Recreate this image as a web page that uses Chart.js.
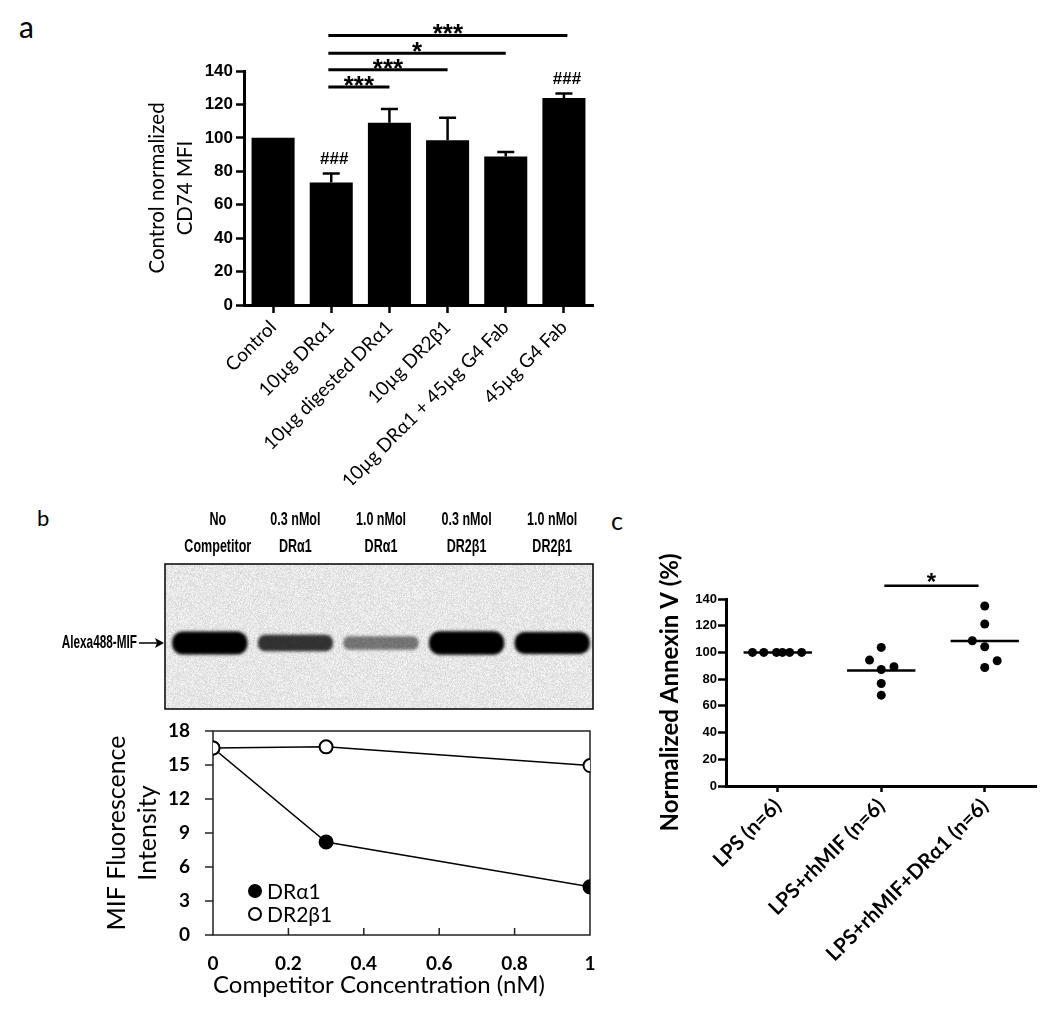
<!DOCTYPE html>
<html><head><meta charset="utf-8">
<script src="https://cdn.jsdelivr.net/npm/chart.js@4.4.1/dist/chart.umd.min.js"></script>
<style>
html,body{margin:0;padding:0;background:#fff;}
body{width:1050px;height:1031px;position:relative;overflow:hidden;}
canvas{position:absolute;}
.lbl{position:absolute;font-family:Lato,'Open Sans',sans-serif;color:#000;line-height:1;white-space:nowrap;}
</style></head><body>
<div class="lbl" style="left:19px;top:11px;font-size:30px">a</div>
<div class="lbl" style="left:37px;top:507px;font-size:22px">b</div>
<div class="lbl" style="left:611px;top:508px;font-size:25px">c</div>
<canvas id="ca" width="480" height="470" style="left:120px;top:15px"></canvas>
<canvas id="gel" width="600" height="225" style="left:0px;top:490px"></canvas>
<canvas id="cb" width="510" height="290" style="left:100px;top:715px"></canvas>
<canvas id="cc" width="450" height="480" style="left:600px;top:530px"></canvas>
<script>
// ---------- Panel a data ----------
const catA = ['Control', '10µg DRα1', '10µg digested DRα1', '10µg DR2β1', '10µg DRα1 + 45µg G4 Fab', '45µg G4 Fab'];
const meanA = [100, 73.3, 109, 98.5, 88.8, 123.8];
const semA = [0, 5.4, 8.3, 13.6, 2.8, 2.7];
const hashA = ['', '###', '', '', '', '###'];
const sigFromA = [0.95, 0.95, 0.95, 0.95];
const sigToA = [2, 3, 4, 5.06];
const sigLevelA = [130.4, 140.8, 150.6, 161.3];
const sigTextA = ['***', '***', '*', '***'];

// ---------- Panel b data ----------
const concB = [0, 0.3, 1];
const draB = [16.5, 8.2, 4.25];
const dr2B = [16.5, 16.6, 14.95];
const laneTop = ['No', '0.3 nMol', '1.0 nMol', '0.3 nMol', '1.0 nMol'];
const laneBottom = ['Competitor', 'DRα1', 'DRα1', 'DR2β1', 'DR2β1'];
const laneIntensity = [draB[0], draB[1], draB[2], dr2B[1], dr2B[2]];

// ---------- Panel c data ----------
const catC = ['LPS (n=6)', 'LPS+rhMIF (n=6)', 'LPS+rhMIF+DRα1 (n=6)'];
const valsC = [
  [100, 100, 100, 100, 100, 100],
  [94.25, 103.75, 87.25, 89.25, 76.75, 68],
  [134.75, 121.25, 108.75, 104.25, 93.75, 88.75]
];
const jitterC = [
  [-0.244, -0.135, -0.012, 0.045, 0.115, 0.231],
  [-0.113, 0, 0, 0.123, 0, 0],
  [0, 0, -0.12, 0, 0.12, 0]
];
const meanC = [100, 86.5, 108.6];
const sigFromC = [1.03], sigToC = [1.94], sigLevelC = [150], sigTextC = ['*'];

const LATO = "Lato, 'Open Sans', sans-serif";
const ARIAL = "'Liberation Sans', Arial, sans-serif";

// ---------- Panel a ----------
const annotA = {
  id: 'annotA',
  afterDatasetsDraw(chart) {
    const ctx = chart.ctx, xs = chart.scales.x, ys = chart.scales.y;
    ctx.save();
    ctx.strokeStyle = '#000'; ctx.fillStyle = '#000'; ctx.lineWidth = 2.5;
    meanA.forEach((m, i) => {
      const x = xs.getPixelForValue(i);
      let top = ys.getPixelForValue(m);
      if (semA[i] > 0) {
        top = ys.getPixelForValue(m + semA[i]);
        ctx.beginPath();
        ctx.moveTo(x, ys.getPixelForValue(m)); ctx.lineTo(x, top);
        ctx.moveTo(x - 8.5, top); ctx.lineTo(x + 8.5, top);
        ctx.stroke();
      }
      if (hashA[i]) {
        ctx.font = 'bold 17px ' + ARIAL;
        ctx.textAlign = 'center'; ctx.textBaseline = 'middle';
        ctx.fillText(hashA[i], x + 3, top - 14);
      }
    });
    ctx.lineWidth = 3;
    sigLevelA.forEach((lv, i) => {
      const y = ys.getPixelForValue(lv);
      const x1 = xs.getPixelForValue(sigFromA[i]), x2 = xs.getPixelForValue(sigToA[i]);
      ctx.beginPath(); ctx.moveTo(x1, y); ctx.lineTo(x2, y); ctx.stroke();
      ctx.font = 'bold 26px ' + ARIAL;
      ctx.textAlign = 'center'; ctx.textBaseline = 'alphabetic';
      ctx.fillText(sigTextA[i], (x1 + x2) / 2, y + 7);
    });
    ctx.restore();
  }
};

new Chart(document.getElementById('ca'), {
  type: 'bar',
  data: { labels: catA, datasets: [{ data: meanA, backgroundColor: '#000', borderWidth: 0, barPercentage: 0.74, categoryPercentage: 1 }] },
  options: {
    responsive: false, animation: false, events: [],
    layout: { padding: { top: 56, right: 7, left: 0, bottom: 0 } },
    plugins: { legend: { display: false }, tooltip: { enabled: false } },
    scales: {
      x: {
        grid: { display: true, offset: false, drawOnChartArea: false, drawTicks: true, tickLength: 8, tickWidth: 2.5, tickColor: '#000' },
        border: { display: true, color: '#000', width: 3 },
        ticks: { color: '#000', font: { family: LATO, size: 19 }, maxRotation: 45, minRotation: 45, padding: 3, autoSkip: false },
        afterFit(s) { s.height = 180; }
      },
      y: {
        min: 0, max: 140,
        ticks: { stepSize: 20, color: '#000', font: { family: ARIAL, size: 17, weight: 'bold' }, padding: 3 },
        grid: { drawOnChartArea: false, tickLength: 8, tickWidth: 2.5, tickColor: '#000' },
        border: { color: '#000', width: 3 },
        title: { display: true, text: ['Control normalized', 'CD74 MFI'], color: '#000', font: { family: LATO, size: 20.5, lineHeight: 1.37 }, padding: { top: 23, bottom: 0 } },
        afterFit(s) { s.width = 124; }
      }
    }
  },
  plugins: [annotA]
});

// ---------- Panel b gel (photograph stand-in) ----------
(function drawGel() {
  const c = document.getElementById('gel'), ctx = c.getContext('2d');
  const gx = 165, gy = 74, gw = 428, gh = 145;
  const img = ctx.createImageData(gw, gh);
  let s = 12345;
  const rnd = () => { s = (s * 1103515245 + 12345) & 0x7fffffff; return s / 0x7fffffff; };
  for (let i = 0; i < gw * gh; i++) {
    const g = 216 + Math.floor(rnd() * 30);
    img.data[i * 4] = g; img.data[i * 4 + 1] = g; img.data[i * 4 + 2] = g; img.data[i * 4 + 3] = 255;
  }
  ctx.putImageData(img, gx, gy);
  const laneW = gw / laneIntensity.length;
  const bandY = 153;
  laneIntensity.forEach((v, i) => {
    const cx = gx + (i + 0.5) * laneW + 2;
    const bw = laneW * 0.88, bh = 10 + v * 0.8;
    const a = Math.min(1, 0.2 + v / 14);
    ctx.save();
    ctx.filter = 'blur(1.6px)';
    ctx.fillStyle = 'rgba(0,0,0,' + a + ')';
    ctx.beginPath();
    ctx.roundRect(cx - bw / 2, bandY - bh / 2, bw, bh, bh * 0.45);
    ctx.fill();
    ctx.restore();
    ctx.save();
    ctx.fillStyle = '#000';
    ctx.font = 'bold 19px ' + ARIAL;
    ctx.textAlign = 'center'; ctx.textBaseline = 'middle';
    ctx.translate(cx + (i === 0 ? 8 : 0), 0);
    ctx.scale(0.66, 1);
    ctx.fillText(laneTop[i], 0, 30);
    ctx.fillText(laneBottom[i], 0, 57);
    ctx.restore();
  });
  ctx.strokeStyle = '#000'; ctx.lineWidth = 1.5;
  ctx.strokeRect(gx, gy, gw, gh);
  ctx.save();
  ctx.fillStyle = '#000';
  ctx.font = 'bold 19px ' + ARIAL;
  ctx.textAlign = 'right'; ctx.textBaseline = 'middle';
  ctx.translate(137, bandY);
  ctx.scale(0.62, 1);
  ctx.fillText('Alexa488-MIF', 0, 0);
  ctx.restore();
  ctx.beginPath(); ctx.lineWidth = 1.5; ctx.strokeStyle = '#000';
  ctx.moveTo(139, bandY); ctx.lineTo(160, bandY); ctx.stroke();
  ctx.beginPath(); ctx.fillStyle = '#000';
  ctx.moveTo(164, bandY); ctx.lineTo(155, bandY - 5); ctx.lineTo(157, bandY); ctx.lineTo(155, bandY + 5); ctx.closePath(); ctx.fill();
})();

// ---------- Panel b line chart ----------
const boxB = {
  id: 'boxB',
  beforeDatasetsDraw(chart) {
    const { ctx, chartArea: a } = chart, xs = chart.scales.x, ys = chart.scales.y;
    ctx.save();
    ctx.strokeStyle = '#222'; ctx.lineWidth = 1.5;
    ctx.strokeRect(a.left, a.top, a.right - a.left, a.bottom - a.top);
    [0.2, 0.4, 0.6, 0.8].forEach(v => {
      const x = xs.getPixelForValue(v);
      ctx.beginPath(); ctx.moveTo(x, a.bottom); ctx.lineTo(x, a.bottom - 7); ctx.stroke();
    });
    ys.ticks.forEach(t => {
      const y = ys.getPixelForValue(t.value);
      ctx.beginPath(); ctx.moveTo(a.left - 8, y); ctx.lineTo(a.left, y); ctx.stroke();
    });
    ctx.restore();
  },
  afterDraw(chart) {
    const { ctx, chartArea: a } = chart;
    const order = [1, 0];
    ctx.save();
    order.forEach((di, k) => {
      const ds = chart.data.datasets[di];
      const x = a.left + 42, y = a.bottom - 44 + k * 23;
      ctx.beginPath(); ctx.arc(x, y, 6, 0, Math.PI * 2);
      ctx.fillStyle = ds.pointBackgroundColor; ctx.fill();
      ctx.lineWidth = 2; ctx.strokeStyle = '#000'; ctx.stroke();
      ctx.fillStyle = '#000'; ctx.font = '21px ' + LATO;
      ctx.textAlign = 'left'; ctx.textBaseline = 'middle';
      ctx.fillText(ds.label, x + 12, y + 1);
    });
    ctx.restore();
  }
};

new Chart(document.getElementById('cb'), {
  type: 'scatter',
  data: {
    datasets: [
      { label: 'DR2β1', data: concB.map((x, i) => ({ x, y: dr2B[i] })), showLine: true, borderColor: '#000', borderWidth: 1.5, pointRadius: 6.5, pointBackgroundColor: '#fff', pointBorderColor: '#000', pointBorderWidth: 2 },
      { label: 'DRα1', data: concB.map((x, i) => ({ x, y: draB[i] })), showLine: true, borderColor: '#000', borderWidth: 1.5, pointRadius: 6.5, pointBackgroundColor: '#000', pointBorderColor: '#000', pointBorderWidth: 2 }
    ]
  },
  options: {
    responsive: false, animation: false, events: [],
    layout: { padding: { top: 16, right: 20, left: 0, bottom: 0 } },
    plugins: { legend: { display: false }, tooltip: { enabled: false } },
    scales: {
      x: {
        type: 'linear', min: 0, max: 1,
        grid: { display: true, drawOnChartArea: false, drawTicks: true, tickLength: 15, tickColor: 'rgba(0,0,0,0)' },
        border: { display: false },
        ticks: { stepSize: 0.2, callback: v => String(Math.round(v * 10) / 10), color: '#000', font: { family: LATO, size: 19, weight: 'bold' }, padding: 2 },
        title: { display: true, align: 'start', text: 'Competitor Concentration (nM)', color: '#000', font: { family: LATO, size: 24, lineHeight: 1.2 }, padding: { top: 0, bottom: 5 } },
        afterFit(s) { s.height = 70; }
      },
      y: {
        min: 0, max: 18,
        ticks: { stepSize: 3, color: '#000', font: { family: LATO, size: 19, weight: 'bold' }, padding: 2 },
        grid: { display: true, drawOnChartArea: false, tickLength: 21, tickColor: 'rgba(0,0,0,0)' },
        border: { display: false },
        title: { display: true, text: ['MIF Fluorescence', 'Intensity'], color: '#000', font: { family: LATO, size: 25, lineHeight: 1.24 }, padding: { top: 1.5, bottom: 0 } },
        afterFit(s) { s.width = 113; }
      }
    }
  },
  plugins: [boxB]
});

// ---------- Panel c ----------
const annotC = {
  id: 'annotC',
  afterDraw(chart) {
    const ctx = chart.ctx, xs = chart.scales.x, ys = chart.scales.y;
    ctx.save();
    ctx.strokeStyle = '#000'; ctx.fillStyle = '#000'; ctx.lineWidth = 2.5;
    sigLevelC.forEach((lv, i) => {
      const y = ys.getPixelForValue(lv);
      const x1 = xs.getPixelForValue(sigFromC[i]), x2 = xs.getPixelForValue(sigToC[i]);
      ctx.beginPath(); ctx.moveTo(x1, y); ctx.lineTo(x2, y); ctx.stroke();
      ctx.font = 'bold 24px ' + ARIAL;
      ctx.textAlign = 'center'; ctx.textBaseline = 'alphabetic';
      ctx.fillText(sigTextC[i], (x1 + x2) / 2, y + 4.5);
    });
    ctx.restore();
  }
};

const dsC = [];
valsC.forEach((vals, g) => {
  dsC.push({ data: vals.map((v, k) => ({ x: g + jitterC[g][k], y: v })), pointRadius: 4.5, pointBackgroundColor: '#000', pointBorderWidth: 0, showLine: false });
  dsC.push({ data: [{ x: g - 0.33, y: meanC[g] }, { x: g + 0.33, y: meanC[g] }], pointRadius: 0, showLine: true, borderColor: '#000', borderWidth: 2.5 });
});

new Chart(document.getElementById('cc'), {
  type: 'scatter',
  data: { datasets: dsC },
  options: {
    responsive: false, animation: false, events: [],
    layout: { padding: { top: 69, right: 13.5, left: 0, bottom: 0 } },
    plugins: { legend: { display: false }, tooltip: { enabled: false } },
    scales: {
      x: {
        type: 'linear', min: -0.5, max: 2.5,
        afterBuildTicks(s) { s.ticks = [0, 1, 2].map(v => ({ value: v })); },
        grid: { drawOnChartArea: false, tickLength: 6, tickWidth: 2.5, tickColor: '#000' },
        border: { color: '#000', width: 3 },
        ticks: { callback: v => catC[v], autoSkip: false, maxRotation: 45, minRotation: 45, color: '#000', font: { family: LATO, size: 20.5, weight: 'bold' }, padding: 2 },
        afterFit(s) { s.height = 224; }
      },
      y: {
        min: 0, max: 140,
        ticks: { stepSize: 20, color: '#000', font: { family: ARIAL, size: 13, weight: 'bold' }, padding: 1 },
        grid: { drawOnChartArea: false, tickLength: 8, tickWidth: 2.5, tickColor: '#000' },
        border: { color: '#000', width: 3 },
        title: { display: true, text: 'Normalized Annexin V (%)', color: '#000', font: { family: LATO, size: 24, weight: 'bold', lineHeight: 1.24 }, padding: { top: 55, bottom: 0 } },
        afterFit(s) { s.width = 126; }
      }
    }
  },
  plugins: [annotC]
});
</script>
</body></html>
